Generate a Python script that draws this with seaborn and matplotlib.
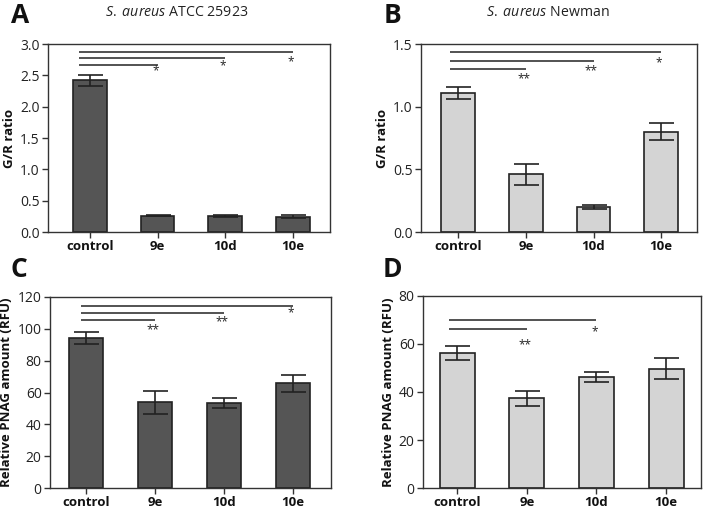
import matplotlib
matplotlib.use("Agg")
import matplotlib.pyplot as plt
import seaborn as sns
import pandas as pd
import numpy as np

categories = ["control", "9e", "10d", "10e"]

a_vals = [2.42, 0.26, 0.255, 0.245]
a_err = [0.09, 0.01, 0.015, 0.025]
b_vals = [1.11, 0.46, 0.20, 0.80]
b_err = [0.05, 0.082, 0.016, 0.067]
c_vals = [94.2, 53.8, 53.4, 65.8]
c_err = [3.6, 7.2, 3.0, 5.4]
d_vals = [56.3, 37.3, 46.2, 49.7]
d_err = [3.0, 3.0, 2.2, 4.4]

a_sig = [("9e", 2.67, "*", 2.57), ("10d", 2.77, "*", 2.65), ("10e", 2.88, "*", 2.72)]
b_sig = [("9e", 1.30, "**", 1.22), ("10d", 1.367, "**", 1.29), ("10e", 1.434, "*", 1.35)]
c_sig = [("9e", 105.3, "**", 99.5), ("10d", 110.0, "**", 104.7), ("10e", 114.6, "*", 110.0)]
d_sig = [("9e", 66.3, "**", 59.8), ("10d", 70.2, "*", 65.0)]

sns.set_theme(style="white")
plt.rcParams['font.family'] = ['Open Sans', 'DejaVu Sans']
plt.rcParams['mathtext.fontset'] = 'custom'
plt.rcParams['mathtext.rm'] = 'Open Sans'
plt.rcParams['mathtext.it'] = 'Open Sans:italic'

W, H = 706, 513
fig = plt.figure(figsize=(W / 100, H / 100), dpi=100)


def px_axes(left, top, right, bottom):
    return fig.add_axes([left / W, 1 - bottom / H, (right - left) / W, (bottom - top) / H])


def panel(ax, vals, errs, color, ylim, yticks, yfmt, ylabel, sig, start, xlim):
    df = pd.DataFrame({"cat": categories, "val": vals})
    sns.barplot(data=df, x="cat", y="val", ax=ax, color=color, width=0.5,
                edgecolor="#222222", linewidth=1.2, errorbar=None, saturation=1)
    ax.errorbar(np.arange(len(categories)), vals, yerr=errs, fmt="none",
                ecolor="#222222", elinewidth=1.2, capsize=9, capthick=1.2)
    ax.set_ylim(*ylim)
    ax.set_xlim(*xlim)
    ax.set_yticks(yticks)
    ax.set_yticklabels([yfmt.format(t) for t in yticks], fontsize=10, color="#222222")
    ax.set_xticks(range(len(categories)))
    ax.set_xticklabels(categories, fontsize=9.5, fontweight="bold", color="#111111")
    ax.set_xlabel("")
    ax.set_ylabel(ylabel, fontsize=9.5, fontweight="bold", color="#111111", labelpad=3)
    for s in ax.spines.values():
        s.set_visible(True)
        s.set_color("#333333")
        s.set_linewidth(1.0)
    ax.tick_params(axis="both", direction="out", length=4, width=1, color="#333333",
                   pad=2, bottom=True, left=True)
    for cat, ly, star, sy in sig:
        xe = categories.index(cat)
        ax.plot([start, xe], [ly, ly], color="#444444", lw=1.3, solid_capstyle="butt")
        ax.text(xe - 0.03, sy, star, ha="center", va="center", fontsize=8.5, color="#222222")


axA = px_axes(48, 44, 330, 232)
panel(axA, a_vals, a_err, "#555555", (0, 3.0), [0, 0.5, 1.0, 1.5, 2.0, 2.5, 3.0], "{:.1f}",
      "G/R ratio", a_sig, -0.16, (-0.62, 3.55))
axB = px_axes(421, 44, 697, 232)
panel(axB, b_vals, b_err, "#d4d4d4", (0, 1.5), [0, 0.5, 1.0, 1.5], "{:.1f}",
      "G/R ratio", b_sig, -0.12, (-0.55, 3.53))
axC = px_axes(50, 297, 331, 488)
panel(axC, c_vals, c_err, "#555555", (0, 120), [0, 20, 40, 60, 80, 100, 120], "{:.0f}",
      "Relative PNAG amount (RFU)", c_sig, -0.07, (-0.52, 3.55))
axD = px_axes(423, 296, 701, 488)
panel(axD, d_vals, d_err, "#d4d4d4", (0, 80), [0, 20, 40, 60, 80], "{:.0f}",
      "Relative PNAG amount (RFU)", d_sig, -0.12, (-0.49, 3.5))

# panel letters
for x, y, letter in [(11, 2, "A"), (384, 2, "B"), (11, 256, "C"), (383, 256, "D")]:
    fig.text(x / W, 1 - y / H, letter, fontsize=19, fontweight="bold", va="top", ha="left",
             color="#111111")

# titles
fig.text(177 / W, 1 - 13 / H, "$\\it{S.}$ $\\it{aureus}$ ATCC 25923", fontsize=10.2, ha="center",
         va="center", color="#222222")
fig.text(548 / W, 1 - 13 / H, "$\\it{S.}$ $\\it{aureus}$ Newman", fontsize=10.2, ha="center",
         va="center", color="#222222")

fig.savefig("out.png", dpi=100)
